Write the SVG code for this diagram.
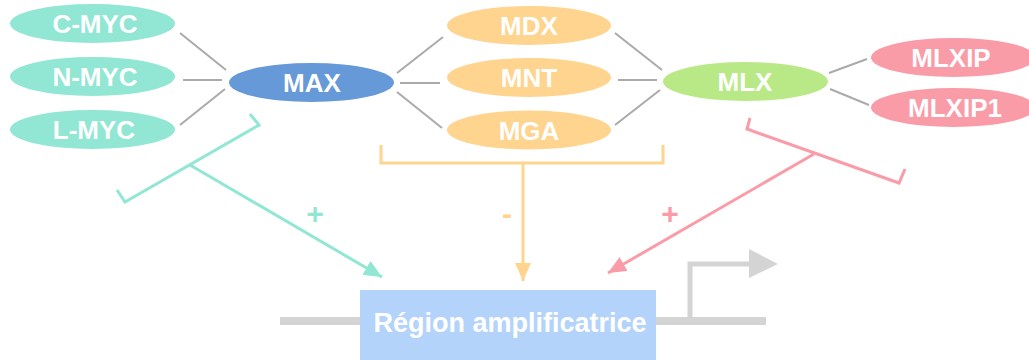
<svg xmlns="http://www.w3.org/2000/svg" width="1029" height="360" viewBox="0 0 1029 360">
<style>
.lbl{font-family:"Liberation Sans",Arial,sans-serif;font-weight:bold;font-size:26px;fill:#ffffff;text-anchor:middle}
.big{font-size:27px}
.sign{font-family:"Liberation Sans",Arial,sans-serif;font-weight:bold;font-size:30px;text-anchor:middle}
.link{stroke:#aaaaaa;stroke-width:2;fill:none}
.teal{fill:#92e6d4}
.orange{fill:#fed48e}
.pink{fill:#fa9ba8}
</style>
<defs>
<marker id="aTeal" markerUnits="userSpaceOnUse" viewBox="0 0 18 16" refX="18" refY="8" markerWidth="18" markerHeight="16" orient="auto"><path d="M0,0 L18,8 L0,16 z" fill="#92e6d4"/></marker>
<marker id="aOrange" markerUnits="userSpaceOnUse" viewBox="0 0 18 16" refX="18" refY="8" markerWidth="18" markerHeight="16" orient="auto"><path d="M0,0 L18,8 L0,16 z" fill="#fed48e"/></marker>
<marker id="aPink" markerUnits="userSpaceOnUse" viewBox="0 0 18 16" refX="18" refY="8" markerWidth="18" markerHeight="16" orient="auto"><path d="M0,0 L18,8 L0,16 z" fill="#fa9ba8"/></marker>
</defs>
<g id="dna">
<line x1="280" y1="321" x2="766" y2="321" stroke="#d4d4d4" stroke-width="8"/>
<polyline points="690,321 690,264 752,264" fill="none" stroke="#d4d4d4" stroke-width="5"/>
<polygon points="749,249 778,264 749,278" fill="#d4d4d4"/>
</g>
<g id="connectors">
<line class="link" x1="180" y1="33" x2="226" y2="70"/>
<line class="link" x1="183" y1="80" x2="222" y2="80"/>
<line class="link" x1="180" y1="125" x2="225" y2="89"/>
<line class="link" x1="397" y1="73" x2="443" y2="37"/>
<line class="link" x1="400" y1="83" x2="440" y2="83"/>
<line class="link" x1="397" y1="92" x2="442" y2="128"/>
<line class="link" x1="615" y1="33" x2="662" y2="70"/>
<line class="link" x1="618" y1="80" x2="657" y2="80"/>
<line class="link" x1="615" y1="125" x2="660" y2="90"/>
<line class="link" x1="829" y1="73" x2="867" y2="59"/>
<line class="link" x1="830" y1="89" x2="869" y2="105"/>
<polyline points="250,114 259,125 125,202 117,190" fill="none" stroke="#92e6d4" stroke-width="3"/>
<line x1="190" y1="165" x2="382" y2="277" stroke="#92e6d4" stroke-width="3" marker-end="url(#aTeal)"/>
<polyline points="381,145 381,163 663,163 663,145" fill="none" stroke="#fed48e" stroke-width="3"/>
<line x1="523" y1="163" x2="523" y2="281" stroke="#fed48e" stroke-width="3" marker-end="url(#aOrange)"/>
<polyline points="750,118 747,129 899,183 905,169" fill="none" stroke="#fa9ba8" stroke-width="3"/>
<line x1="814" y1="154" x2="608" y2="273" stroke="#fa9ba8" stroke-width="3" marker-end="url(#aPink)"/>
<text class="sign teal" x="315" y="224">+</text>
<text class="sign orange" x="507" y="224">-</text>
<text class="sign pink" x="670" y="224">+</text>
</g>
<g id="cmyc"><ellipse cx="92.5" cy="23.5" rx="82.5" ry="19.5" fill="#92e6d4"/><text class="lbl" x="95" y="33">C-MYC</text></g>
<g id="nmyc"><ellipse cx="92.5" cy="76.5" rx="82.5" ry="19.5" fill="#92e6d4"/><text class="lbl" x="95" y="86">N-MYC</text></g>
<g id="lmyc"><ellipse cx="92.5" cy="129.5" rx="82.5" ry="19.5" fill="#92e6d4"/><text class="lbl" x="94" y="139">L-MYC</text></g>
<g id="max"><ellipse cx="311.5" cy="82.5" rx="82.5" ry="19.5" fill="#6699d8"/><text class="lbl" x="312" y="92">MAX</text></g>
<g id="mdx"><ellipse cx="529" cy="25.5" rx="82" ry="19.5" fill="#fed48e"/><text class="lbl" x="529" y="35">MDX</text></g>
<g id="mnt"><ellipse cx="529" cy="77.5" rx="82" ry="19.5" fill="#fed48e"/><text class="lbl" x="529" y="87">MNT</text></g>
<g id="mga"><ellipse cx="529" cy="130" rx="82" ry="19.5" fill="#fed48e"/><text class="lbl" x="529" y="139.5">MGA</text></g>
<g id="mlx"><ellipse cx="745.5" cy="81.5" rx="82.5" ry="19.5" fill="#b9e987"/><text class="lbl" x="745" y="91">MLX</text></g>
<g id="mlxip"><ellipse cx="953.5" cy="57.5" rx="82.5" ry="19.5" fill="#fa9ba8"/><text class="lbl" x="951" y="67">MLXIP</text></g>
<g id="mlxip1"><ellipse cx="953.5" cy="107.5" rx="82.5" ry="19.5" fill="#fa9ba8"/><text class="lbl" x="955" y="117">MLXIP1</text></g>
<g id="region"><rect x="360" y="290" width="296" height="70" fill="#b3d3fb"/><text class="lbl big" x="510" y="332">Région amplificatrice</text></g>
</svg>
